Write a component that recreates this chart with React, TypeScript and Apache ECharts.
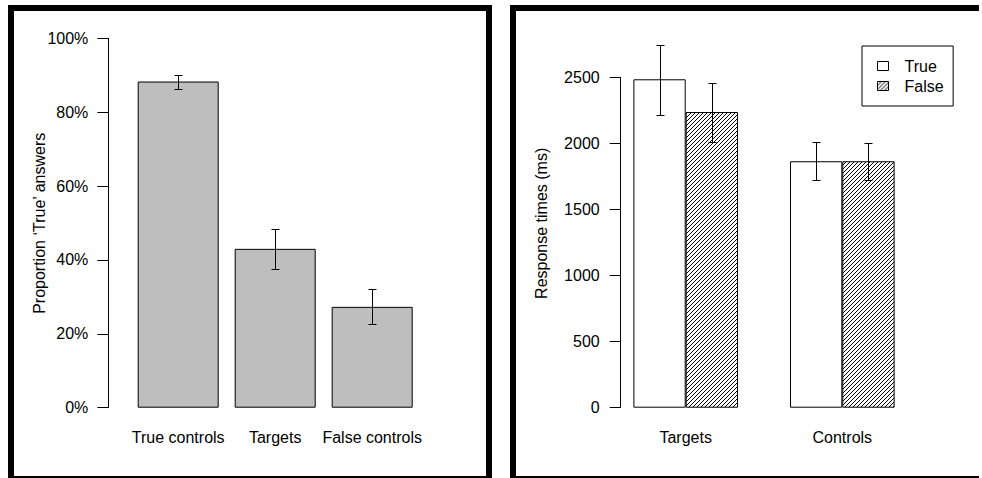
import { useEffect, useRef } from "react";
import * as echarts from "echarts";

// Left panel: share of 'True' answers per item type (percent), with error bars
const answerCategories = ["True controls", "Targets", "False controls"];
const proportionTrue = [88.3, 43.0, 27.3];
const proportionLow = [86.4, 37.5, 22.6];
const proportionHigh = [90.2, 48.5, 32.0];
const percentTicks = [0, 20, 40, 60, 80, 100];

// Right panel: response times (ms) split by answer given
const rtCategories = ["Targets", "Controls"];
const rtTrue = [2488, 1867];
const rtTrueLow = [2217, 1723];
const rtTrueHigh = [2750, 2011];
const rtFalse = [2240, 1867];
const rtFalseLow = [2015, 1723];
const rtFalseHigh = [2462, 2008];
const msTicks = [0, 500, 1000, 1500, 2000, 2500];

const FONT = "'Liberation Sans', Arial, Helvetica, sans-serif";
const LEFT_BAR_W = 81;
const RIGHT_BAR_W = 52.3;

function hatchImage(): string {
  const c = document.createElement("canvas");
  c.width = 4;
  c.height = 4;
  const ctx = c.getContext("2d")!;
  ctx.fillStyle = "#fff";
  ctx.fillRect(0, 0, 4, 4);
  ctx.strokeStyle = "#000";
  ctx.lineWidth = 1;
  ctx.beginPath();
  for (const o of [-4, 0, 4]) {
    ctx.moveTo(o, 4);
    ctx.lineTo(o + 4, 0);
  }
  ctx.stroke();
  return c.toDataURL();
}

function errorBarSeries(
  xAxisIndex: number,
  yAxisIndex: number,
  low: number[],
  high: number[],
  shift: number,
  cap: number
) {
  return {
    type: "custom",
    xAxisIndex,
    yAxisIndex,
    clip: false,
    silent: true,
    z: 5,
    data: low.map((l, i) => [i, l, high[i]]),
    encode: { x: 0, y: [1, 2] },
    renderItem: (_params: any, api: any) => {
      const i = api.value(0);
      const lo = api.coord([i, api.value(1)]);
      const hi = api.coord([i, api.value(2)]);
      const x = Math.round(lo[0] + shift) + 0.5;
      const yl = Math.round(lo[1]) + 0.5;
      const yh = Math.round(hi[1]) + 0.5;
      const st = { stroke: "#000", lineWidth: 1 };
      return {
        type: "group",
        children: [
          { type: "line", shape: { x1: x, y1: yh, x2: x, y2: yl }, style: st },
          { type: "line", shape: { x1: x - cap, y1: yh, x2: x + cap, y2: yh }, style: st },
          { type: "line", shape: { x1: x - cap, y1: yl, x2: x + cap, y2: yl }, style: st },
        ],
      };
    },
  };
}

// one solid black band of a panel frame, kept inside the canvas
function frameBand(x: number, y: number, width: number, height: number) {
  return {
    type: "rect",
    silent: true,
    z: 100,
    shape: { x, y, width, height },
    style: { fill: "#000" },
  };
}

export default function App() {
  const ref = useRef<HTMLDivElement>(null);

  useEffect(() => {
    if (!ref.current) return;
    const chart = echarts.init(ref.current, undefined, { renderer: "svg" });
    const hatch = {
      image: hatchImage(),
      imageWidth: 4,
      imageHeight: 4,
      repeat: "repeat",
    };

    const tickLabel = { fontSize: 16, color: "#000", fontFamily: FONT };

    chart.setOption({
      animation: false,
      backgroundColor: "#fff",
      textStyle: { fontFamily: FONT },
      grid: [
        { left: 129.7, width: 291, top: 38.3, bottom: 70.3 },
        { left: 607.4, width: 313.2, top: 77.7, bottom: 70.3 },
      ],
      xAxis: [
        {
          type: "category",
          gridIndex: 0,
          data: answerCategories,
          axisLine: { show: false },
          axisTick: { show: false },
          axisLabel: { ...tickLabel, margin: 22, interval: 0 },
        },
        {
          type: "category",
          gridIndex: 1,
          data: rtCategories,
          axisLine: { show: false },
          axisTick: { show: false },
          axisLabel: { ...tickLabel, margin: 22, interval: 0 },
        },
      ],
      yAxis: [
        {
          type: "value",
          gridIndex: 0,
          min: percentTicks[0],
          max: percentTicks[percentTicks.length - 1],
          interval: percentTicks[1] - percentTicks[0],
          offset: 21.4,
          splitLine: { show: false },
          axisLine: { show: true, lineStyle: { color: "#000", width: 1 } },
          axisTick: { show: true, length: 11, lineStyle: { color: "#000" } },
          axisLabel: { ...tickLabel, margin: 20, formatter: "{value}%" },
        },
        {
          type: "value",
          gridIndex: 1,
          min: msTicks[0],
          max: msTicks[msTicks.length - 1],
          interval: msTicks[1] - msTicks[0],
          offset: -13.3,
          splitLine: { show: false },
          axisLine: { show: true, lineStyle: { color: "#000", width: 1 } },
          axisTick: { show: true, length: 11, lineStyle: { color: "#000" } },
          axisLabel: {
            ...tickLabel,
            margin: 21,
            formatter: (v: number) => String(v),
          },
        },
      ],
      legend: {
        data: ["True", "False"],
        orient: "vertical",
        left: 862,
        top: 46,
        padding: [10, 9.5, 10, 15],
        itemGap: 0,
        itemWidth: 11,
        itemHeight: 9,
        icon: "rect",
        selectedMode: false,
        borderColor: "#000",
        borderWidth: 1,
        borderRadius: 0,
        itemStyle: { borderColor: "#000", borderWidth: 1 },
        textStyle: {
          fontSize: 16,
          color: "#000",
          fontFamily: FONT,
          lineHeight: 20,
          padding: [0, 0, 0, 11],
        },
      },
      series: [
        {
          type: "bar",
          xAxisIndex: 0,
          yAxisIndex: 0,
          data: proportionTrue,
          barWidth: LEFT_BAR_W,
          itemStyle: { color: "#bebebe", borderColor: "#000", borderWidth: 1 },
        },
        errorBarSeries(0, 0, proportionLow, proportionHigh, 0, 4),
        {
          name: "True",
          type: "bar",
          xAxisIndex: 1,
          yAxisIndex: 1,
          data: rtTrue,
          barWidth: RIGHT_BAR_W,
          barGap: "0%",
          itemStyle: { color: "#fff", borderColor: "#000", borderWidth: 1 },
        },
        {
          name: "False",
          type: "bar",
          xAxisIndex: 1,
          yAxisIndex: 1,
          data: rtFalse,
          barWidth: RIGHT_BAR_W,
          barGap: "0%",
          itemStyle: { color: hatch, borderColor: "#000", borderWidth: 1 },
        },
        errorBarSeries(1, 1, rtTrueLow, rtTrueHigh, -RIGHT_BAR_W / 2, 4),
        errorBarSeries(1, 1, rtFalseLow, rtFalseHigh, RIGHT_BAR_W / 2, 4),
      ],
      graphic: [
        // left panel frame
        frameBand(8, 5, 484, 6),
        frameBand(8, 5, 6, 473),
        frameBand(486, 5, 6, 473),
        frameBand(8, 476, 484, 2),
        // right panel frame: top, left and bottom bands run toward the page edge
        frameBand(510, 5, 469, 6),
        frameBand(510, 5, 6, 473),
        frameBand(510, 476, 469, 2),
        {
          type: "text",
          silent: true,
          x: 39.5,
          y: 223.3,
          rotation: Math.PI / 2,
          style: {
            text: "Proportion \u2018True\u2019 answers",
            fontSize: 16,
            fontFamily: FONT,
            fill: "#000",
            align: "center",
            verticalAlign: "middle",
          },
        },
        {
          type: "text",
          silent: true,
          x: 541.8,
          y: 223.3,
          rotation: Math.PI / 2,
          style: {
            text: "Response times (ms)",
            fontSize: 16,
            fontFamily: FONT,
            fill: "#000",
            align: "center",
            verticalAlign: "middle",
          },
        },
      ],
    });

    return () => chart.dispose();
  }, []);

  return (
    <div
      ref={ref}
      style={{ position: "absolute", left: 0, top: 0, width: 982, height: 478 }}
    />
  );
}
